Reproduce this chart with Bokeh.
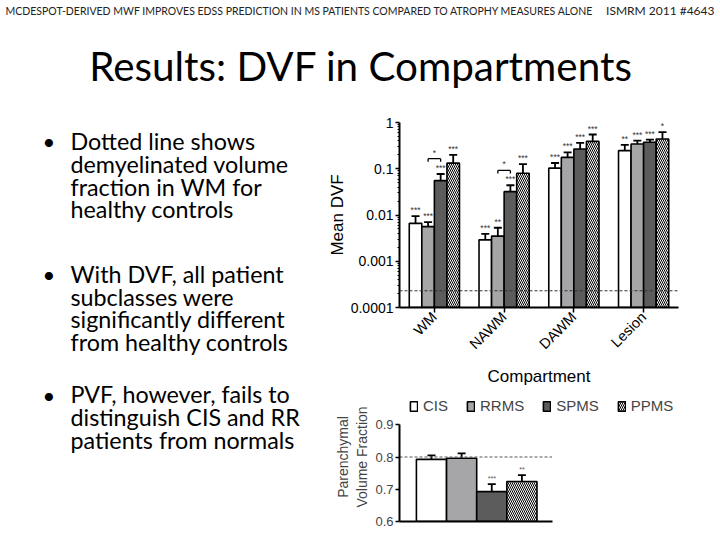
from bokeh.plotting import figure
from bokeh.layouts import column, row
from bokeh.models import (ColumnDataSource, Range1d, FactorRange, FixedTicker, CustomJSTickFormatter,
                          Span, Whisker, TeeHead, Legend, LegendItem)
from bokeh.transform import dodge
from bokeh.core.properties import value
from bokeh.embed import file_html
from bokeh.resources import INLINE

# ---------------- data ----------------
header_left = "mcDESPOT-Derived MWF Improves EDSS Prediction in MS Patients Compared to Atrophy Measures Alone"
header_right = "ISMRM 2011 #4643"
title_text = "Results: DVF in Compartments"
bullet1 = ["Dotted line shows", "demyelinated volume", "fraction in WM for", "healthy controls"]
bullet2 = ["With DVF, all patient", "subclasses were", "significantly different", "from healthy controls"]
bullet3 = ["PVF, however, fails to", "distinguish CIS and RR", "patients from normals"]

compartments = ["WM", "NAWM", "DAWM", "Lesion"]
series = ["CIS", "RRMS", "SPMS", "PPMS"]

dvf_cis = [0.0066, 0.0029, 0.103, 0.246]
dvf_cis_lo = [0.0033, 0.0020, 0.077, 0.185]
dvf_cis_hi = [0.0095, 0.0039, 0.133, 0.327]
dvf_rrms = [0.0056, 0.0035, 0.176, 0.343]
dvf_rrms_lo = [0.0039, 0.0019, 0.126, 0.290]
dvf_rrms_hi = [0.0070, 0.0053, 0.226, 0.406]
dvf_spms = [0.0555, 0.032, 0.268, 0.373]
dvf_spms_lo = [0.034, 0.021, 0.190, 0.327]
dvf_spms_hi = [0.077, 0.044, 0.361, 0.427]
dvf_ppms = [0.132, 0.080, 0.390, 0.440]
dvf_ppms_lo = [0.061, 0.030, 0.226, 0.316]
dvf_ppms_hi = [0.200, 0.126, 0.550, 0.620]

stars_cis = ["***", "***", "***", "**"]
stars_rrms = ["***", "**", "***", "***"]
stars_spms = ["***", "***", "***", "***"]
stars_ppms = ["***", "***", "***", "*"]

control_dvf = 0.00023
bracket_comps = ["WM", "NAWM"]
bracket_y = [0.165, 0.092]
bracket_label = ["*", "*"]

pvf = [0.7927, 0.796, 0.6927, 0.724]
pvf_hi = [0.805, 0.811, 0.7156, 0.744]
pvf_stars = ["", "", "***", "**"]
control_pvf = 0.8

dvf_ticks = [0.0001, 0.001, 0.01, 0.1, 1]
pvf_ticks = [0.6, 0.7, 0.8, 0.9]

# ---------------- styles ----------------
fills = ["white", "#a6a6a8", "#5c5c5c", "white"]
hatches = [None, None, None, "\\"]
offsets = [-0.27, -0.09, 0.09, 0.27]
BAR_W = 0.18
SLIDE_FONT = value("Lato")
CHART_FONT = "Liberation Sans"
BASE_SHIFT = 0.4   # empirical: alphabetic baseline lands ~0.4em low


def blank(fig):
    fig.axis.visible = False
    fig.grid.visible = False
    fig.outline_line_color = None


def slide_text(fig, xs, ys, texts, size, **kw):
    fig.text(x=xs, y=[y - BASE_SHIFT * size for y in ys], text=texts, text_font=SLIDE_FONT,
             text_font_size=value(f"{size}px"), text_baseline="alphabetic", **kw)


# ---------------- header (page coordinates) ----------------
hdr = figure(width=720, height=105, x_range=Range1d(0, 720), y_range=Range1d(105, 0),
             output_backend="svg", toolbar_location=None, min_border=0)
blank(hdr)
slide_text(hdr, [5], [15], [header_left.upper()], 10.5, text_color="#222222")
slide_text(hdr, [714], [15], [header_right], 12, text_color="#222222", text_align="right")
slide_text(hdr, [360.5], [81], [title_text], 40.4, text_color="black", text_align="center")

# ---------------- bullet text (page coordinates) ----------------
txt = figure(width=324, height=431, x_range=Range1d(0, 324), y_range=Range1d(536, 122),
             output_backend="svg", toolbar_location=None, min_border_left=0,
             min_border_right=0, min_border_top=17, min_border_bottom=0)
blank(txt)
LINE_H = 22.7
for lines, y0 in [(bullet1, 150.0), (bullet2, 282.7), (bullet3, 403.3)]:
    slide_text(txt, [42], [y0], ["\u2022"], 22, text_color="black")
    slide_text(txt, [70] * len(lines), [y0 + i * LINE_H for i in range(len(lines))], lines,
               23.3, text_color="black")

# ---------------- DVF chart ----------------
src = ColumnDataSource(dict(
    comp=compartments,
    CIS=dvf_cis, CIS_lo=dvf_cis_lo, CIS_hi=dvf_cis_hi, CIS_s=stars_cis,
    RRMS=dvf_rrms, RRMS_lo=dvf_rrms_lo, RRMS_hi=dvf_rrms_hi, RRMS_s=stars_rrms,
    SPMS=dvf_spms, SPMS_lo=dvf_spms_lo, SPMS_hi=dvf_spms_hi, SPMS_s=stars_spms,
    PPMS=dvf_ppms, PPMS_lo=dvf_ppms_lo, PPMS_hi=dvf_ppms_hi, PPMS_s=stars_ppms,
))

p1 = figure(width=396, height=285, x_range=FactorRange(factors=compartments, range_padding=0),
            y_range=Range1d(1e-4, 1), y_axis_type="log", output_backend="svg",
            toolbar_location=None, min_border_left=74, min_border_right=42,
            min_border_top=17, min_border_bottom=83)
p1.grid.visible = False
p1.outline_line_color = None

for s, off, fc, hp in zip(series, offsets, fills, hatches):
    x = dodge("comp", off, range=p1.x_range)
    kw = dict(hatch_pattern=hp, hatch_color="black", hatch_scale=4, hatch_weight=1) if hp else {}
    p1.vbar(x=x, top=s, bottom=1e-4, width=BAR_W, source=src, fill_color=fc,
            line_color="black", line_width=1.6, **kw)
    p1.add_layout(Whisker(base=x, upper=s + "_hi", lower=s + "_lo", source=src,
                          line_color="black", line_width=1.8,
                          upper_head=TeeHead(size=8, line_width=1.8, line_color="black"),
                          lower_head=TeeHead(size=8, line_width=1.8, line_color="black")))
    p1.text(x=x, y=s + "_hi", text=s + "_s", source=src, text_font=value(CHART_FONT),
            text_font_size=value("8.5px"), text_color="#333333", text_align="center",
            text_baseline="bottom", y_offset=-1)

bsrc = ColumnDataSource(dict(comp=bracket_comps, y=bracket_y, lab=bracket_label,
                             ytick=[v * 0.86 for v in bracket_y]))
bx0 = dodge("comp", offsets[1], range=p1.x_range)
bx1 = dodge("comp", offsets[2], range=p1.x_range)
p1.segment(x0=bx0, x1=bx1, y0="y", y1="y", source=bsrc, line_color="black", line_width=1.3)
p1.segment(x0=bx0, x1=bx0, y0="y", y1="ytick", source=bsrc, line_color="black", line_width=1.3)
p1.segment(x0=bx1, x1=bx1, y0="y", y1="ytick", source=bsrc, line_color="black", line_width=1.3)
p1.text(x="comp", y="y", text="lab", source=bsrc, text_font=value(CHART_FONT),
        text_font_size=value("8.5px"), text_color="#333333", text_align="center",
        text_baseline="bottom", y_offset=-1)

p1.add_layout(Span(location=control_dvf, dimension="width", line_color="#333333",
                   line_width=1, line_dash="3 2"))

minor = [k * 10.0 ** e for e in range(-4, 0) for k in range(2, 10)]
p1.yaxis.ticker = FixedTicker(ticks=dvf_ticks, minor_ticks=minor)
p1.yaxis.formatter = CustomJSTickFormatter(code="return tick.toString();")
p1.yaxis.axis_label = "Mean DVF"
p1.xaxis.axis_label = "Compartment"
p1.xaxis.major_label_orientation = 0.785398
for ax in (p1.xaxis[0], p1.yaxis[0]):
    ax.axis_line_width = 2
    ax.axis_line_color = "black"
    ax.major_tick_line_width = 1.5
    ax.major_tick_line_color = "black"
    ax.major_tick_in = 0
    ax.major_tick_out = 4
    ax.minor_tick_in = 0
    ax.minor_tick_out = 2
    ax.minor_tick_line_color = "black"
    ax.major_label_text_font = CHART_FONT
    ax.major_label_text_font_size = "14px"
    ax.major_label_text_color = "black"
    ax.major_label_standoff = 2
    ax.axis_label_text_font = CHART_FONT
    ax.axis_label_text_font_style = "normal"
    ax.axis_label_text_font_size = "17px"
    ax.axis_label_text_color = "black"
p1.yaxis.axis_label_standoff = 1
p1.xaxis.axis_label_standoff = 6
p1.xaxis.major_tick_out = 5
p1.xaxis.major_label_text_font_size = "14.5px"

# ---------------- PVF chart ----------------
X0, X1 = -1.061, 8.195     # frame extent in bar units
AX_END = 4.0               # where the x axis line stops
Y_TOP = 1.0                # frame extends above the axis to hold the legend
p2 = figure(width=396, height=146, x_range=Range1d(X0, X1), y_range=Range1d(0.6, Y_TOP),
            output_backend="svg", toolbar_location=None,
            min_border_left=74, min_border_right=42, min_border_top=2, min_border_bottom=15)
p2.grid.visible = False
p2.outline_line_color = None

items = []
for i, (s, v, hi, st, fc, hp) in enumerate(zip(series, pvf, pvf_hi, pvf_stars, fills, hatches)):
    ps = ColumnDataSource(dict(x=[i], top=[v], hi=[hi], st=[st]))
    kw = dict(hatch_pattern=hp, hatch_color="black", hatch_scale=4, hatch_weight=1) if hp else {}
    r = p2.vbar(x="x", top="top", bottom=0.6, width=1.0, source=ps, fill_color=fc,
                line_color="black", line_width=1.6, **kw)
    p2.add_layout(Whisker(base="x", upper="hi", lower="top", source=ps, line_color="black",
                          line_width=1.8, lower_head=None,
                          upper_head=TeeHead(size=8, line_width=1.8, line_color="black")))
    p2.text(x="x", y="hi", text="st", source=ps, text_font=value(CHART_FONT),
            text_font_size=value("7px"), text_color="#555555", text_align="center",
            text_baseline="bottom", y_offset=-2)
    items.append(LegendItem(label=s, renderers=[r]))

p2.segment(x0=[X0], x1=[AX_END], y0=[control_pvf], y1=[control_pvf], line_color="#555555",
           line_width=1, line_dash="3 2")

legend = Legend(items=items, orientation="horizontal", location=(10, 107),
                border_line_color=None, background_fill_alpha=0, glyph_width=9,
                glyph_height=12, label_text_font=CHART_FONT, label_text_font_size="15px",
                label_standoff=5, spacing=18, padding=0, margin=0, label_height=14)
p2.add_layout(legend)

p2.yaxis.ticker = FixedTicker(ticks=pvf_ticks, minor_ticks=[])
p2.yaxis.bounds = (0.6, 0.9)
p2.yaxis.axis_label = "Parenchymal\nVolume Fraction"
ya = p2.yaxis[0]
ya.axis_line_width = 2
ya.axis_line_color = "black"
ya.major_tick_line_width = 1.5
ya.major_tick_in = 0
ya.major_tick_out = 4
ya.major_label_text_font = CHART_FONT
ya.major_label_text_font_size = "13px"
ya.major_label_standoff = 2
ya.axis_label_text_font = CHART_FONT
ya.axis_label_text_font_style = "normal"
ya.axis_label_text_font_size = "14px"
ya.axis_label_standoff = 2
xa = p2.xaxis[0]
xa.bounds = (X0, AX_END)
xa.ticker = FixedTicker(ticks=[], minor_ticks=[])
xa.axis_line_width = 2
xa.axis_line_color = "black"
xa.major_label_text_font_size = "1px"
xa.major_label_standoff = 0
xa.major_tick_out = 0

layout = column(hdr, row(txt, column(p1, p2)))
open("out.html", "w").write(file_html(layout, INLINE, title="Results: DVF in Compartments"))
